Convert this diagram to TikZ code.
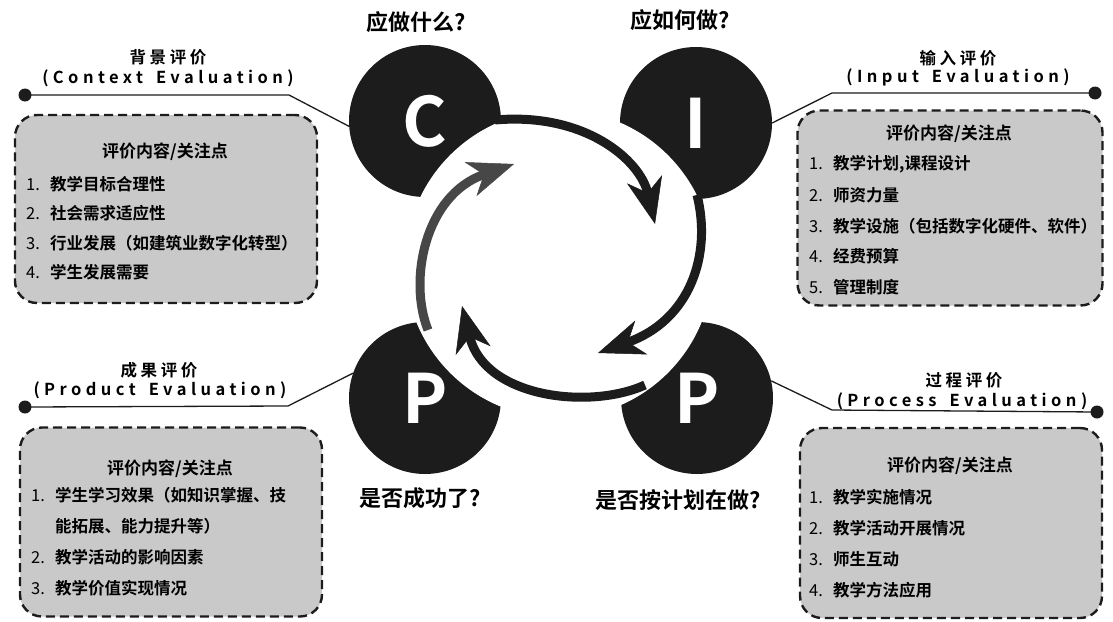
\documentclass[tikz,border=0pt]{standalone}
\usepackage{fontspec}
\setmainfont{Noto Sans CJK SC}[BoldFont={* Bold}]
\newfontfamily\spaced{Noto Sans CJK SC Bold}[LetterSpace=22]
\newfontfamily\spacedlat{Noto Sans CJK SC Bold}[LetterSpace=27]
\usepackage{tikz}
\usetikzlibrary{arrows.meta,positioning,calc}
\definecolor{ink}{HTML}{1C1C1C}
\definecolor{boxgray}{HTML}{C9C9C9}
\newcommand{\itemno}[1]{\makebox[24pt][l]{\mdseries #1}}
\newcommand{\wsp}{\hspace{13pt}}
\tikzset{stage/.style={circle,fill=ink,minimum size=152pt,inner sep=0pt,text=white,font=\fontsize{68}{68}\selectfont\bfseries}}
\tikzset{infobox/.style={draw=ink,fill=boxgray,dash pattern=on 9pt off 5pt,line width=2.4pt,rounded corners=22pt}}

\begin{document}
\begin{tikzpicture}[x=1pt, y=-1pt, >=Stealth,
  dot/.style={circle,fill=ink,minimum size=13pt,inner sep=0pt},
  lead/.style={draw=ink,line width=1.3pt},
  head/.style={font=\spaced\fontsize{16.5}{18}\selectfont,inner sep=0pt},
  en/.style={font=\spacedlat\fontsize{16.5}{18}\selectfont,inner sep=0pt},
  ask/.style={font=\fontsize{22}{24}\selectfont\bfseries,inner sep=0pt},
  ttl/.style={font=\fontsize{17}{19}\selectfont\bfseries,inner sep=0pt},
  item/.style={anchor=west,font=\fontsize{16.5}{19}\selectfont\bfseries,inner sep=0pt},
  flow/.style={draw=ink,line width=9pt,-{Stealth[length=46pt,width=36pt,inset=14pt,line width=0.5pt]}}]
\useasboundingbox (0,0) rectangle (1113,621);

% four stages
\node[stage] (C) at (425,121) {C};
\node[stage] (I) at (696,123) {I};
\node[stage] (P2) at (425,398) {P};
\node[stage] (P1) at (697,398) {P};

% white ring between the stages
\coordinate (O) at (559,264);
\fill[white] (O) circle (154pt);

% cycle arrows
\coordinate (a1) at (495,120);
\coordinate (b1) at (655,224);
\coordinate (a2) at (697,195);
\coordinate (b2) at (598,353);
\coordinate (a3) at (645,385);
\coordinate (b3) at (462,306);
\coordinate (a4) at (428,330);
\coordinate (b4) at (514,164);
\draw[flow] (a1) .. controls (585,112) and (640,160) .. (b1);
\draw[flow] (a2) .. controls (712,255) and (690,320) .. (b2);
\draw[flow] (a3) .. controls (590,410) and (485,398) .. (b3);
\draw[flow,draw=black!72] (a4) .. controls (408,280) and (425,195) .. (b4);

% questions
\node[ask] (q1) at (416,22) {应做什么?};
\node[ask] (q2) at (680,20) {应如何做?};
\node[ask] (q3) at (420,498) {是否成功了?};
\node[ask] (q4) at (678,500) {是否按计划在做?};

% leader lines
\node[dot] (Cd) at (25,95) {};
\coordinate (Ck) at (289,95);
\draw[lead] (Cd.center) -- (Ck) -- (C.184);
\node[dot] (Id) at (1095,93) {};
\coordinate (Ik) at (832,93);
\draw[lead] (Id.center) -- (Ik) -- (I.east);
\node[dot] (P2d) at (25,407) {};
\coordinate (P2k) at (288,406);
\draw[lead] (P2d.center) -- (P2k) -- (P2.161);
\node[dot] (P1d) at (1097,412) {};
\coordinate (P1k) at (832,410);
\draw[lead] (P1d.center) -- (P1k) -- (P1.13);

% headings
\node[head] (Ch) at (168,57) {背景评价};
\node[en] (Ce) at (168,78) {(Context\wsp Evaluation)};
\node[head] (Ih) at (958,58) {输入评价};
\node[en] (Ie) at (958,77) {(Input\wsp Evaluation)};
\node[head] (P2h) at (159,370) {成果评价};
\node[en] (P2e) at (160,390) {(Product\wsp Evaluation)};
\node[head] (P1h) at (964,380) {过程评价};
\node[en] (P1e) at (962,401) {(Process\wsp Evaluation)};

% context box
\node[infobox,minimum width=302pt,minimum height=188pt] (Cb) at (166,209) {};
\node[ttl] (Ct) at (165,152) {评价内容/关注点};
\node[item] (C1) at (26,184) {\itemno{1.}教学目标合理性};
\node[item] (C2) at (26,213) {\itemno{2.}社会需求适应性};
\node[item] (C3) at (26,243) {\itemno{3.}行业发展（如建筑业数字化转型）};
\node[item] (C4) at (26,272) {\itemno{4.}学生发展需要};

% input box
\node[infobox,minimum width=305pt,minimum height=195pt] (Ib) at (950,208) {};
\node[ttl] (It) at (949,134) {评价内容/关注点};
\node[item] (I1) at (809,164) {\itemno{1.}教学计划,课程设计};
\node[item] (I2) at (809,195) {\itemno{2.}师资力量};
\node[item] (I3) at (809,226) {\itemno{3.}教学设施（包括数字化硬件、软件）};
\node[item] (I4) at (809,256) {\itemno{4.}经费预算};
\node[item] (I5) at (809,287) {\itemno{5.}管理制度};

% product box
\node[infobox,minimum width=302pt,minimum height=189pt] (P2b) at (171,522) {};
\node[ttl] (P2t) at (170,469) {评价内容/关注点};
\node[item] (P21) at (31,495) {\itemno{1.}学生学习效果（如知识掌握、技};
\node[item] (P21b) at (55,526) {能拓展、能力提升等）};
\node[item] (P22) at (31,557) {\itemno{2.}教学活动的影响因素};
\node[item] (P23) at (31,588) {\itemno{3.}教学价值实现情况};

% process box
\node[infobox,minimum width=302pt,minimum height=190pt] (P1b) at (951,523) {};
\node[ttl] (P1t) at (950,466) {评价内容/关注点};
\node[item] (P11) at (809,497) {\itemno{1.}教学实施情况};
\node[item] (P12) at (809,528) {\itemno{2.}教学活动开展情况};
\node[item] (P13) at (809,559) {\itemno{3.}师生互动};
\node[item] (P14) at (809,590) {\itemno{4.}教学方法应用};
\end{tikzpicture}
\end{document}
